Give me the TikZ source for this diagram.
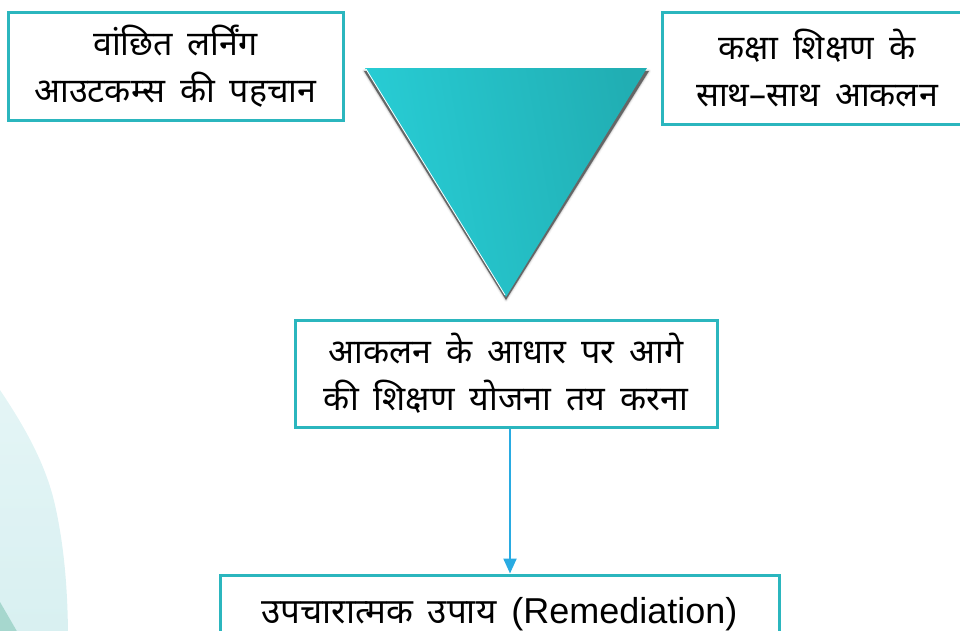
\documentclass[tikz,border=0pt]{standalone}
\usepackage{fontspec}
\setmainfont{Liberation Sans}
\newfontfamily\dev[Script=Devanagari]{Noto Sans}
\usetikzlibrary{arrows.meta,shadows.blur}
\definecolor{frame}{HTML}{2BB6BE}
\definecolor{flow}{HTML}{29ABE2}
\definecolor{tealL}{HTML}{28CED6}
\definecolor{tealR}{HTML}{21AEB3}
\definecolor{mist}{HTML}{D6EFF0}
\definecolor{mistdark}{HTML}{A6D7CE}
\newcommand\widewords{\spaceskip=15pt plus 2pt\relax}
\tikzset{
  infobox/.style={draw=frame, line width=3pt, fill=white, align=center,
    inner sep=0pt, font=\dev\fontsize{34}{47}\selectfont\widewords},
  flowarrow/.style={draw=flow, line width=2.2pt,
    -{Triangle[length=15pt,width=13pt]}},
}
\begin{document}
\begin{tikzpicture}[x=1pt,y=-1pt]
\useasboundingbox (0,0) rectangle (960,630);
\begin{scope}
\clip (0,0) rectangle (960,630);
% soft backdrop at the lower left
\shade[top color=mist!70, bottom color=mist, opacity=0.95]
  (-10,385) -- (0,390) .. controls (20,420) and (45,460) .. (55,505)
  .. controls (64,545) and (68,590) .. (68,640) -- (-10,640) -- cycle;
\fill[mistdark] (-10,598) -- (0,602) -- (22,640) -- (-10,640) -- cycle;

% central funnel triangle with its shadow
\fill[black!60, blur shadow={shadow xshift=0pt, shadow yshift=0pt, shadow blur steps=3}]
  (364,71) -- (649,71) -- (506,300) -- cycle;
\shade[left color=tealL, right color=tealR, shading angle=100]
  (365,68) -- (647,68) -- (506,297) -- cycle;
\draw[white, line width=0.8pt] (366,69) -- (505,295);

% text boxes
\node[infobox, minimum width=335pt, minimum height=108pt] (outcomes) at (175.5,66)
  {वांछित लर्निंग\\आउटकम्स की पहचान};
\node[infobox, minimum width=310pt, minimum height=112pt] (assess) at (817,68)
  {कक्षा शिक्षण के\\साथ–साथ आकलन};
\node[infobox, minimum width=422pt, minimum height=107pt] (plan) at (506,373.5)
  {आकलन के आधार पर आगे\\की शिक्षण योजना तय करना};
\node[infobox, minimum width=559pt, minimum height=78pt,
      font=\dev\fontsize{35}{47}\selectfont\widewords] (remedy) at (499.5,614)
  {उपचारात्मक उपाय {\fontspec{Liberation Sans}\fontsize{36}{40}\selectfont(Remediation)}};

% planning leads to remediation
\draw[flowarrow] (plan.south -| 510,0) -- (remedy.north -| 510,0);
\end{scope}
\end{tikzpicture}
\end{document}
